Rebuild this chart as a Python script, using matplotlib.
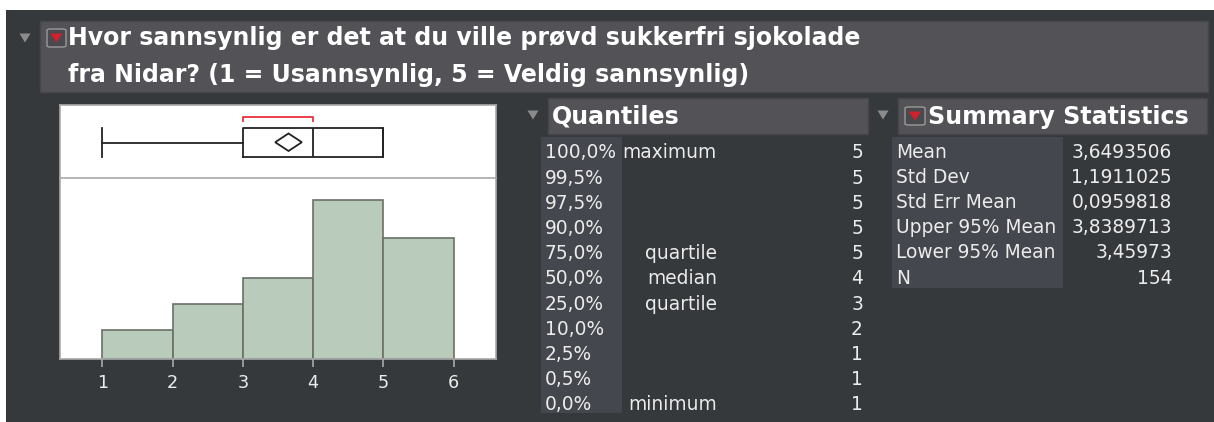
import matplotlib
matplotlib.use("Agg")
import matplotlib.pyplot as plt
from matplotlib.patches import Rectangle, Polygon, FancyBboxPatch

# ---------------- data ----------------
title_lines = ["Hvor sannsynlig er det at du ville prøvd sukkerfri sjokolade",
               "fra Nidar? (1 = Usannsynlig, 5 = Veldig sannsynlig)"]
categories = [1, 2, 3, 4, 5]
counts = [10, 19, 28, 55, 42]
x_ticks = [1, 2, 3, 4, 5, 6]

q_levels = ["100,0%", "99,5%", "97,5%", "90,0%", "75,0%", "50,0%",
            "25,0%", "10,0%", "2,5%", "0,5%", "0,0%"]
q_names = ["maximum", "", "", "", "quartile", "median", "quartile", "", "", "", "minimum"]
q_values = [5, 5, 5, 5, 5, 4, 3, 2, 1, 1, 1]

s_labels = ["Mean", "Std Dev", "Std Err Mean", "Upper 95% Mean", "Lower 95% Mean", "N"]
s_values = ["3,6493506", "1,1911025", "0,0959818", "3,8389713", "3,45973", "154"]
mean_val = 3.6493506
ci_low, ci_high = 3.45973, 3.8389713
shortest_half = [3, 4]

# ---------------- style ----------------
W, H = 1214, 422
BG = "#36393c"
HEAD = "#535257"
HEAD_EDGE = "#47474b"
SHADE = "#45474e"
TXT = "#ececec"
BAR = "#b9cbbb"
BAR_EDGE = "#6a7068"
SPINE = "#a9a9a9"
FONT = "DejaVu Sans"

fig = plt.figure(figsize=(W / 100, H / 100), dpi=100)
fig.patch.set_facecolor("white")
renderer = fig.canvas.get_renderer()


def fx(x):
    return x / W


def fy(y):
    return 1 - y / H


def fit_size(s, target_px, weight="normal"):
    t = fig.text(0, 0, s, fontsize=10, family=FONT, fontweight=weight)
    w = t.get_window_extent(renderer).width
    t.remove()
    return 10 * target_px / w


def rect(x0, y0, x1, y1, z=-2, **kw):
    fig.add_artist(Rectangle((fx(x0), fy(y1)), (x1 - x0) / W, (y1 - y0) / H,
                             transform=fig.transFigure, zorder=z, **kw))


def tri(cx, cy, w, h, color, z=-1):
    pts = [(fx(cx - w / 2), fy(cy - h / 2)), (fx(cx + w / 2), fy(cy - h / 2)),
           (fx(cx), fy(cy + h / 2))]
    fig.add_artist(Polygon(pts, closed=True, transform=fig.transFigure,
                           facecolor=color, edgecolor="none", zorder=z))


def red_icon(x0, y0, x1, y1):
    fig.add_artist(FancyBboxPatch((fx(x0), fy(y1)), (x1 - x0) / W, (y1 - y0) / H,
                                  boxstyle="round,pad=0,rounding_size=0.003",
                                  transform=fig.transFigure, facecolor="#4a4a4e",
                                  edgecolor="#9a9a9a", linewidth=1.0, zorder=-1.5))
    tri((x0 + x1) / 2, (y0 + y1) / 2, (x1 - x0) * 0.62, (y1 - y0) * 0.5, "#d3202b")


TITLE_FS = fit_size(title_lines[0], 789, "bold")
HEAD_FS = fit_size("Summary Statistics", 260, "bold")
TABLE_FS = fit_size("Upper 95% Mean", 160)

# background
rect(6, 10, W, H, z=-5, facecolor=BG, edgecolor="none")

# ---------------- title header ----------------
rect(40, 21, 1208, 92, facecolor=HEAD, edgecolor=HEAD_EDGE, linewidth=1)
tri(25, 38, 11, 9, "#8c8c8c")
red_icon(47, 29, 66, 47)
fig.text(fx(68), fy(45), title_lines[0], fontsize=TITLE_FS, fontweight="bold",
         color="white", family=FONT, va="baseline", ha="left")
fig.text(fx(68), fy(82), title_lines[1], fontsize=TITLE_FS, fontweight="bold",
         color="white", family=FONT, va="baseline", ha="left")

# ---------------- plot panel ----------------
px0, px1 = 60, 496
box_top, sep, hist_bot = 105, 178, 359

ax_box = fig.add_axes([fx(px0), fy(sep), (px1 - px0) / W, (sep - box_top) / H])
ax_hist = fig.add_axes([fx(px0), fy(hist_bot), (px1 - px0) / W, (hist_bot - sep) / H])

xlim = (0.4, 6.6)
for ax in (ax_box, ax_hist):
    ax.set_facecolor("white")
    ax.set_xlim(*xlim)
    for sp in ax.spines.values():
        sp.set_color(SPINE)
        sp.set_linewidth(1.2)

# histogram
ax_hist.bar(categories, counts, width=1.0, align="edge", color=BAR,
            edgecolor=BAR_EDGE, linewidth=1.2)
ax_hist.set_ylim(0, 62.6)
ax_hist.set_yticks([])
ax_hist.set_xticks(x_ticks)
ax_hist.set_xticklabels([str(t) for t in x_ticks], family=FONT, fontsize=TABLE_FS * 0.95,
                        color=TXT)
ax_hist.tick_params(axis="x", length=6, width=1.2, color=SPINE, pad=5)

# box plot
stats = [dict(med=q_values[5], q1=q_values[6], q3=q_values[4],
              whislo=q_values[-1], whishi=q_values[0], fliers=[])]
box_kw = dict(positions=[0.486], widths=[0.397], capwidths=[0.397],
              showfliers=False, patch_artist=False,
              boxprops=dict(color="#222222", linewidth=1.3),
              medianprops=dict(color="#222222", linewidth=1.3),
              whiskerprops=dict(color="#222222", linewidth=1.3),
              capprops=dict(color="#222222", linewidth=1.3),
              manage_ticks=False)
try:
    ax_box.bxp(stats, orientation="horizontal", **box_kw)
except TypeError:
    ax_box.bxp(stats, vert=False, **box_kw)
ax_box.set_ylim(0, 1)
ax_box.set_xlim(*xlim)
ax_box.set_xticks([])
ax_box.set_yticks([])
ax_box.spines["bottom"].set_visible(False)

# mean diamond
yc, dh = 0.49, 0.12
ax_box.add_patch(Polygon([(ci_low, yc), (mean_val, yc + dh), (ci_high, yc), (mean_val, yc - dh)],
                         closed=True, facecolor="none", edgecolor="#222222", linewidth=1.3))
# shortest half bracket
by, bt = 0.836, 0.78
ax_box.plot([shortest_half[0], shortest_half[0], shortest_half[1], shortest_half[1]],
            [bt, by, by, bt], color="#e8323c", linewidth=1.3)

# ---------------- quantiles table ----------------
tri(533, 115, 11, 9, "#8c8c8c")
rect(548, 98, 868, 134, facecolor=HEAD, edgecolor=HEAD_EDGE, linewidth=1)
fig.text(fx(552), fy(124), "Quantiles", fontsize=HEAD_FS, fontweight="bold",
         color="white", family=FONT, va="baseline")
rect(541, 137, 622, 413, facecolor=SHADE, edgecolor="none")
row_base, row_step = 158.3, 25.2
for i, (lv, nm, v) in enumerate(zip(q_levels, q_names, q_values)):
    yb = fy(row_base + i * row_step)
    fig.text(fx(545), yb, lv, fontsize=TABLE_FS, color=TXT, family=FONT, va="baseline")
    if nm:
        fig.text(fx(717), yb, nm, fontsize=TABLE_FS, color=TXT, family=FONT,
                 va="baseline", ha="right")
    fig.text(fx(863), yb, str(v), fontsize=TABLE_FS, color=TXT, family=FONT,
             va="baseline", ha="right")

# ---------------- summary statistics table ----------------
tri(883, 115, 11, 9, "#8c8c8c")
rect(898, 98, 1207, 134, facecolor=HEAD, edgecolor=HEAD_EDGE, linewidth=1)
red_icon(905, 107, 925, 125)
fig.text(fx(928), fy(124), "Summary Statistics", fontsize=HEAD_FS, fontweight="bold",
         color="white", family=FONT, va="baseline")
rect(892, 137, 1063, 288, facecolor=SHADE, edgecolor="none")
s_step = 25.05
for i, (lb, v) in enumerate(zip(s_labels, s_values)):
    yb = fy(row_base + i * s_step)
    fig.text(fx(896), yb, lb, fontsize=TABLE_FS, color=TXT, family=FONT, va="baseline")
    fig.text(fx(1172), yb, v, fontsize=TABLE_FS, color=TXT, family=FONT,
             va="baseline", ha="right")

fig.savefig("out.png", dpi=100, facecolor=fig.get_facecolor())
